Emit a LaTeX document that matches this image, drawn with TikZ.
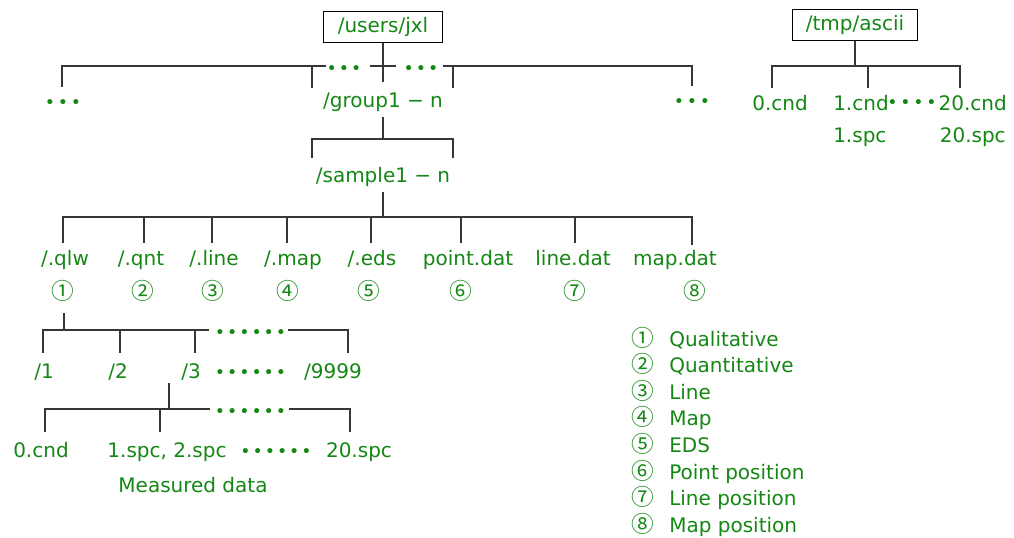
\documentclass[tikz,border=0pt]{standalone}
\usepackage{fontspec}
\setmainfont{DejaVu Sans}
\newfontfamily\cjk{Noto Sans CJK JP}
\definecolor{tg}{RGB}{20,135,20}
\definecolor{ln}{RGB}{55,55,55}
\newcommand\kd{\kern1.5pt}
\newcommand\ke{\kern2.1pt}
\begin{document}
\begin{tikzpicture}[x=0.75pt,y=-0.75pt,
  every node/.style={text=tg, inner sep=0pt, font=\fontsize{15}{18}\selectfont},
  lbl/.style={anchor=base},
  dotf/.style={anchor=base, font=\fontsize{13}{13}\selectfont},
  circ/.style={font=\cjk\fontsize{17}{17}\selectfont},
  dirbox/.style={draw=black, line width=0.8pt, minimum height=23pt, text height=11.5pt, text depth=3pt},
  br/.style={draw=ln, line width=1.1pt}]
\useasboundingbox (0,0) rectangle (1014,537);
% ---------- left tree ----------
\node[dirbox, minimum width=89pt] (root) at (383,27) {/users/jxl};
\node[dotf] (td1) at (344,74) {•\kd•\kd•};
\node[dotf] (td2) at (421,74) {•\kd•\kd•};
\node[dotf] (ld) at (63,108) {•\ke•\ke•};
\node[dotf] (rd) at (692,107) {•\ke•\ke•};
\node[lbl] (g1) at (383,107) {/group1 − n};
\node[lbl] (s1) at (383,182) {/sample1 − n};
\node[lbl] (qlw) at (65,265) {/.qlw};
\node[lbl] (qnt) at (141,265) {/.qnt};
\node[lbl] (line) at (214,265) {/.line};
\node[lbl] (map) at (293,265) {/.map};
\node[lbl] (eds) at (372,265) {/.eds};
\node[lbl] (pdat) at (468,265) {point.dat};
\node[lbl] (ldat) at (573,265) {line.dat};
\node[lbl] (mdat) at (675,265) {map.dat};
\node[circ] (n1) at (63,291) {①};
\node[circ] (n2) at (143,291) {②};
\node[circ] (n3) at (213,291) {③};
\node[circ] (n4) at (288,291) {④};
\node[circ] (n5) at (369,291) {⑤};
\node[circ] (n6) at (461,291) {⑥};
\node[circ] (n7) at (575,291) {⑦};
\node[circ] (n8) at (695,291) {⑧};
\node[dotf] (bd1) at (250.5,338) {•\kd•\kd•\kd•\kd•\kd•};
\node[lbl] (d1) at (44,378) {/1};
\node[lbl] (d2) at (118,378) {/2};
\node[lbl] (d3) at (191,378) {/3};
\node[dotf] (bd2) at (250.5,378) {•\kd•\kd•\kd•\kd•\kd•};
\node[lbl] (d9) at (333,378) {/9999};
\node[dotf] (bd3) at (250.5,417) {•\kd•\kd•\kd•\kd•\kd•};
\node[lbl] (f0) at (41,457) {0.cnd};
\node[lbl] (f1) at (167,457) {1.spc, 2.spc};
\node[dotf] (bd4) at (276,457) {•\kd•\kd•\kd•\kd•\kd•};
\node[lbl] (f20) at (359,457) {20.spc};
\node[lbl] (meas) at (193,492) {Measured data};
% connectors, left tree
\draw[br] (root.south) -- (383,82);
\draw[br] (62,87) -- (62,66) -- (326,66);
\draw[br] (370,66) -- (396,66);
\draw[br] (443,66) -- (692,66) -- (692,86);
\draw[br] (312,66) -- (312,88);
\draw[br] (453,66) -- (453,88);
\draw[br] (383,117) -- (383,139);
\draw[br] (312,158) -- (312,139) -- (453,139) -- (453,158);
\draw[br] (383,192) -- (383,217);
\draw[br] (63,243) -- (63,217) -- (692,217) -- (692,245);
\foreach \x in {144,212,287,371,461,575} \draw[br] (\x,217) -- (\x,243);
\draw[br] (64,313) -- (64,330);
\draw[br] (43,353) -- (43,330) -- (209,330);
\draw[br] (288,330) -- (348,330) -- (348,353);
\foreach \x in {120,195} \draw[br] (\x,330) -- (\x,353);
\draw[br] (169,383) -- (169,409);
\draw[br] (45,432) -- (45,409) -- (210,409);
\draw[br] (289,409) -- (350,409) -- (350,432);
\draw[br] (160,409) -- (160,432);
% ---------- right tree ----------
\node[dirbox, minimum width=94pt] (tmp) at (855,25) {/tmp/ascii};
\node[lbl] (r0) at (780,110) {0.cnd};
\node[anchor=base west] (r1) at (833,110) {1.cnd};
\node[dotf] (rdots) at (912,108) {•\ke•\ke•\ke•};
\node[anchor=base east] (r20) at (1007,110) {20.cnd};
\node[anchor=base west] (s1spc) at (833,142) {1.spc};
\node[anchor=base east] (s20spc) at (1006,142) {20.spc};
\draw[br] (tmp.south) -- (855,66);
\draw[br] (772,88) -- (772,66) -- (960,66) -- (960,88);
\draw[br] (868,66) -- (868,88);
% ---------- legend ----------
\foreach \i/\t/\y in {1/Qualitative/346, 2/Quantitative/372.5, 3/Line/399, 4/Map/425.5, 5/EDS/452, 6/Point position/479, 7/Line position/505, 8/Map position/532}
{
  \node[circ, anchor=base] (lg\i) at (643,\y) {\ifcase\i\or ①\or ②\or ③\or ④\or ⑤\or ⑥\or ⑦\or ⑧\fi};
  \node[anchor=base west] (lt\i) at (669,\y) {\t};
}
\end{tikzpicture}
\end{document}
